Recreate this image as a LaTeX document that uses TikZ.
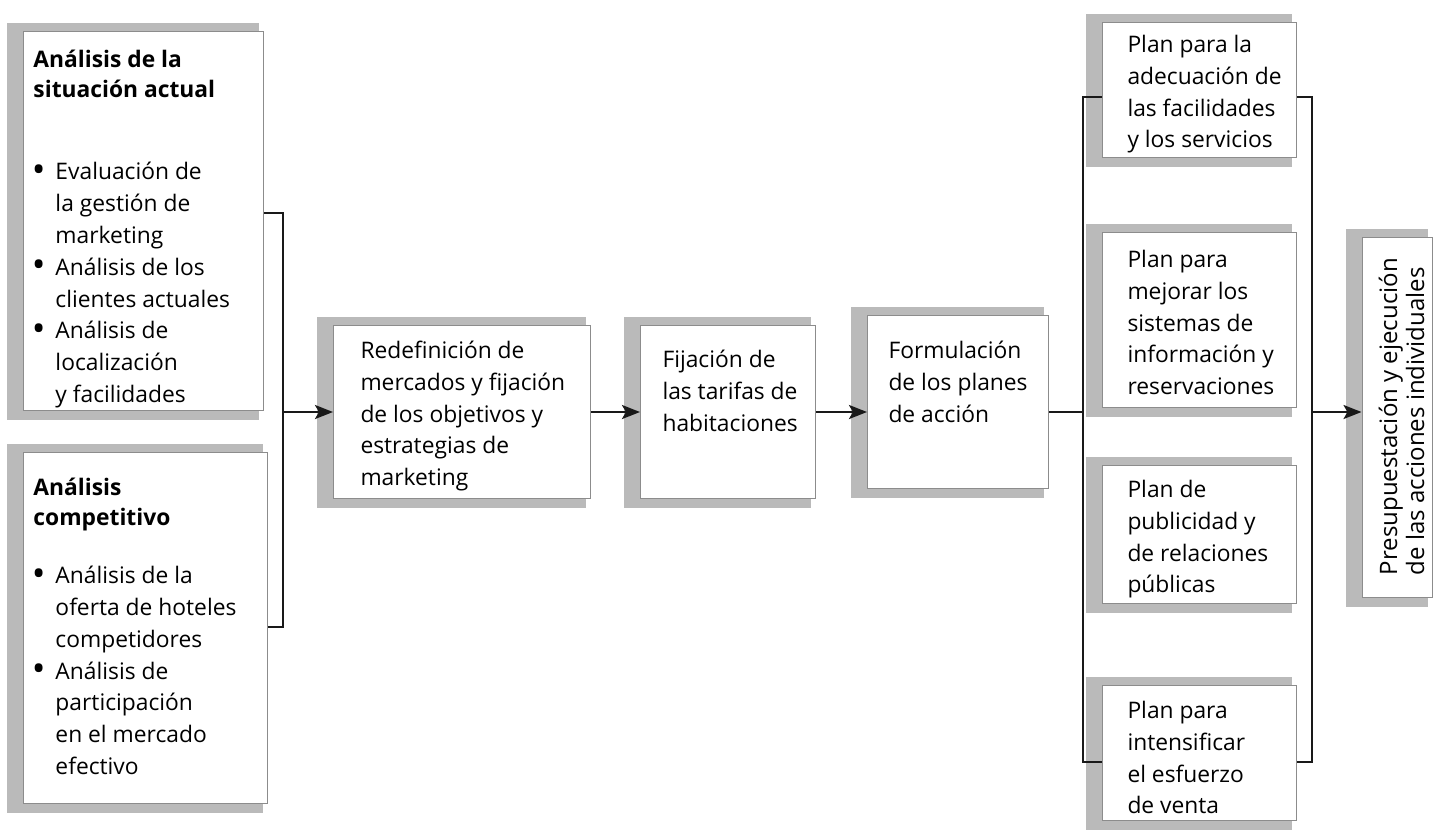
\documentclass[tikz,border=0pt]{standalone}
\usepackage{fontspec}
\setmainfont{Open Sans}
\usetikzlibrary{arrows.meta,backgrounds}

\newcommand\bxt[5]{%
\begin{minipage}[c][#2][t]{#1}\raggedright\leftskip=#3\relax\parindent=0pt\parskip=0pt
\rule{0pt}{#4}#5\end{minipage}}
\newcommand\itm{\leavevmode\llap{\raisebox{-1.3pt}{\scalebox{1.6}{\textbullet}}\hspace{5pt}}}

\tikzset{
  bx/.style={draw=black!45, line width=0.5pt, fill=white, inner sep=0pt, anchor=north west,
     font=\fontsize{11.4pt}{15.9pt}\selectfont},
  conn/.style={line width=1.3pt, black!90},
  arr/.style={conn, -{Stealth[length=9pt,width=7pt,inset=2pt]}},
  shd/.style={fill=black!27}
}

\begin{document}
\begin{tikzpicture}[x=0.5pt,y=-0.5pt]
\useasboundingbox (0,0) rectangle (1445,837);

% left boxes
\node[bx] (A) at (23,31) {\bxt{120pt}{189.5pt}{5pt}{18pt}{%
  {\bfseries\fontsize{11.4pt}{15pt}\selectfont Análisis de la\\situación actual\par}%
  \vspace{25.3pt}\leftskip=16pt
  \itm Evaluación de\\la gestión de\\marketing\par
  \itm Análisis de los\\clientes actuales\par
  \itm Análisis de\\localización\\y facilidades\par}};

\node[bx] (B) at (23,452) {\bxt{122pt}{175.5pt}{5pt}{21.5pt}{%
  {\bfseries\fontsize{11.4pt}{15pt}\selectfont Análisis\\competitivo\par}%
  \vspace{13.2pt}\leftskip=16pt
  \itm Análisis de la\\oferta de hoteles\\competidores\par
  \itm Análisis de\\participación\\en el mercado\\efectivo\par}};

% middle boxes
\node[bx] (R) at (333,325) {\bxt{128.5pt}{86.5pt}{13.5pt}{16.5pt}{%
  Redefinición de\\mercados y fijación\\de los objetivos y\\estrategias de\\marketing}};
\node[bx] (F) at (640,325) {\bxt{87.5pt}{86.5pt}{11pt}{21pt}{%
  Fijación de\\las tarifas de\\habitaciones}};
\node[bx] (Fo) at (867,315) {\bxt{90.5pt}{86.5pt}{10.5pt}{21.5pt}{%
  Formulación\\de los planes\\de acción}};

% plan boxes
\node[bx] (P1) at (1102,22) {\bxt{97pt}{67.5pt}{12.5pt}{15pt}{%
  Plan para la\\adecuación de\\las facilidades\\y los servicios}};
\node[bx] (P2) at (1102,232) {\bxt{97pt}{87.5pt}{12.5pt}{17.5pt}{%
  Plan para\\mejorar los\\sistemas de\\información y\\reservaciones}};
\node[bx] (P3) at (1102,465) {\bxt{97pt}{69pt}{12.5pt}{16pt}{%
  Plan de\\publicidad y\\de relaciones\\públicas}};
\node[bx] (P4) at (1102,685) {\bxt{97pt}{67.5pt}{12.5pt}{16.5pt}{%
  Plan para\\intensificar\\el esfuerzo\\de venta}};

% final rotated box
\node[bx, anchor=center, rotate=90, font=\fontsize{12pt}{13.5pt}\selectfont] (Pr) at (1397,417)
  {\bxt{180pt}{35pt}{11pt}{17.5pt}{Presupuestación y ejecución\\de las acciones individuales}};

% shadows
\begin{scope}[on background layer]
  \foreach \n in {A,B,R,F,Fo,P1,P2,P3,P4}
    \fill[shd] ([xshift=-8pt,yshift=4pt]\n.north west) rectangle ([xshift=-2.5pt,yshift=-4.5pt]\n.south east);
  \fill[shd] ([xshift=-8pt,yshift=-4.5pt]Pr.north west) rectangle ([xshift=-2.5pt,yshift=4pt]Pr.south east);
\end{scope}

% connectors
\coordinate (lt) at (283,213);
\coordinate (lb) at (283,627);
\coordinate (lm) at (283,412);
\coordinate (rt) at (1083,97);
\coordinate (rb) at (1083,762);
\coordinate (rm) at (1083,412);
\coordinate (st) at (1312,97);
\coordinate (sb) at (1312,762);
\coordinate (sm) at (1312,412);

\draw[conn] (A.east |- lt) -| (lb) -- (B.east |- lb);
\draw[arr] (lm) -- (R.west |- lm);
\draw[arr] (R.east |- lm) -- (F.west |- lm);
\draw[arr] (F.east |- lm) -- (Fo.west |- lm);
\draw[conn] (Fo.east |- lm) -- (rm);
\draw[conn] (P1.west |- rt) -- (rt) -- (rb) -- (P4.west |- rb);
\draw[conn] (P1.east |- st) -- (st) -- (sb) -- (P4.east |- sb);
\draw[arr] (sm) -- (Pr.north |- sm);
\end{tikzpicture}
\end{document}
